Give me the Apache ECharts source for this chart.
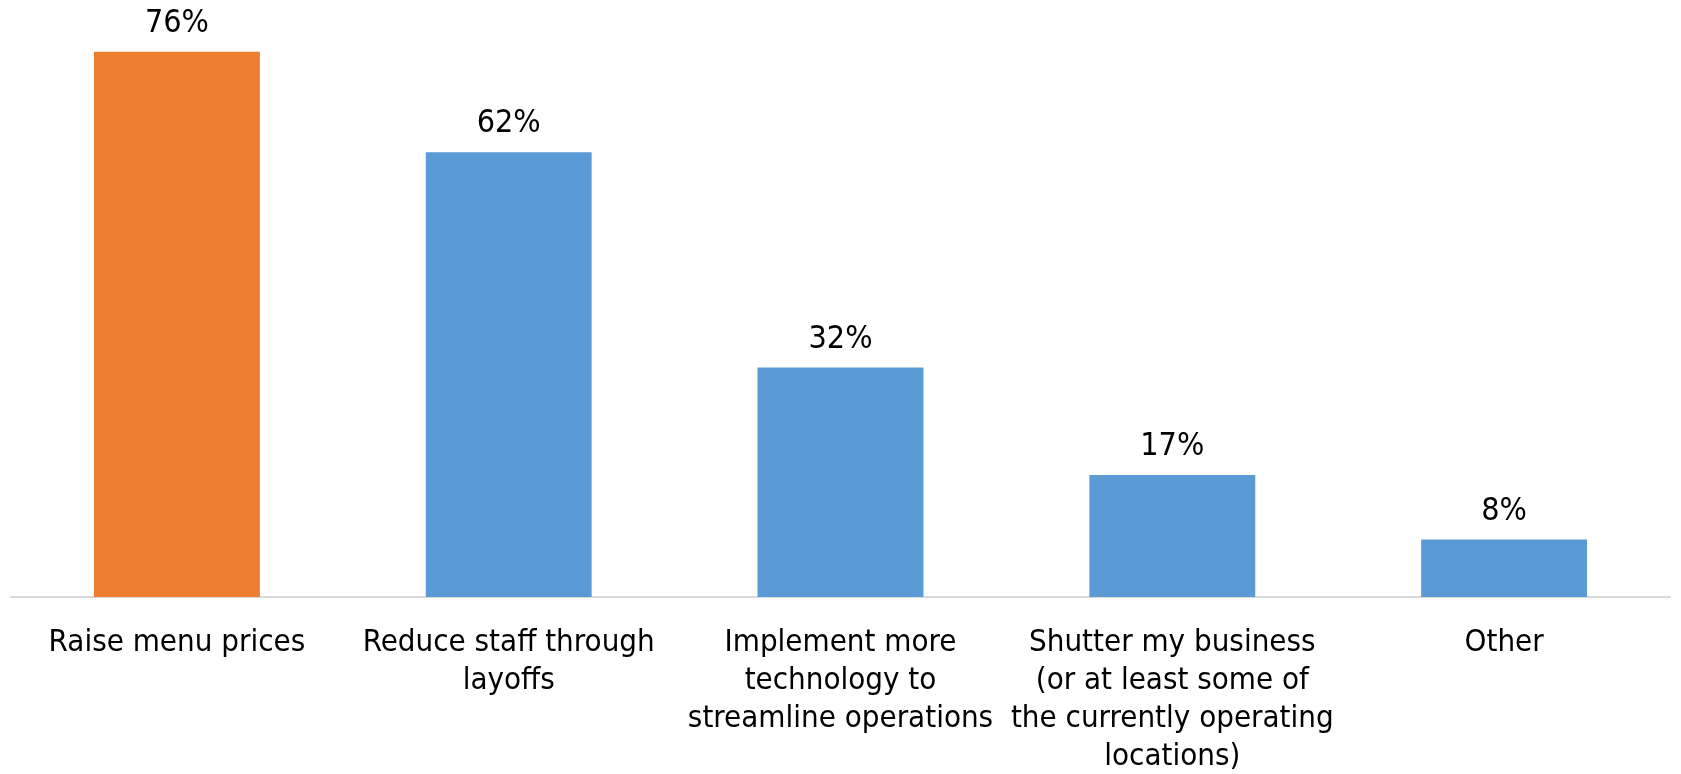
<!DOCTYPE html>
<html>
<head>
<meta charset="utf-8">
<script src="https://cdn.jsdelivr.net/npm/echarts@6/dist/echarts.min.js"></script>
<style>
  html, body { margin: 0; padding: 0; background: #fff; }
  #chart { width: 1681px; height: 774px; }
</style>
</head>
<body>
<div id="chart"></div>
<script>
// Survey responses: planned reactions to rising costs
const categories = [
  'Raise menu prices',
  'Reduce staff through\nlayoffs',
  'Implement more\ntechnology to\nstreamline operations',
  'Shutter my business\n(or at least some of\nthe currently operating\nlocations)',
  'Other'
];
const shares = [76, 62, 32, 17, 8];
const barColors = ['#ED7D31', '#5B9BD5', '#5B9BD5', '#5B9BD5', '#5B9BD5'];

const fontFamily = '"DejaVu Sans Condensed", "DejaVu Sans", sans-serif';

const chart = echarts.init(document.getElementById('chart'));
chart.setOption({
  animation: false,
  grid: {
    left: 11, right: 11, top: 23, bottom: 177,
    containLabel: false,
    outerBoundsMode: 'none'
  },
  xAxis: {
    type: 'category',
    data: categories,
    axisLine: { show: true, lineStyle: { color: '#D9D9D9', width: 2 } },
    axisTick: { show: false },
    axisLabel: {
      interval: 0,
      margin: 27,
      color: '#000',
      fontSize: 31,
      lineHeight: 38,
      fontFamily: fontFamily
    }
  },
  yAxis: {
    type: 'value',
    min: 0,
    max: 80,
    show: false,
    splitLine: { show: false }
  },
  series: [{
    type: 'bar',
    barWidth: '50%',
    data: shares.map((v, i) => ({ value: v, itemStyle: { color: barColors[i] } })),
    label: {
      show: true,
      position: 'top',
      distance: 12,
      color: '#000',
      fontSize: 32,
      fontFamily: fontFamily,
      formatter: p => p.value + '%'
    }
  }]
});
</script>
</body>
</html>
